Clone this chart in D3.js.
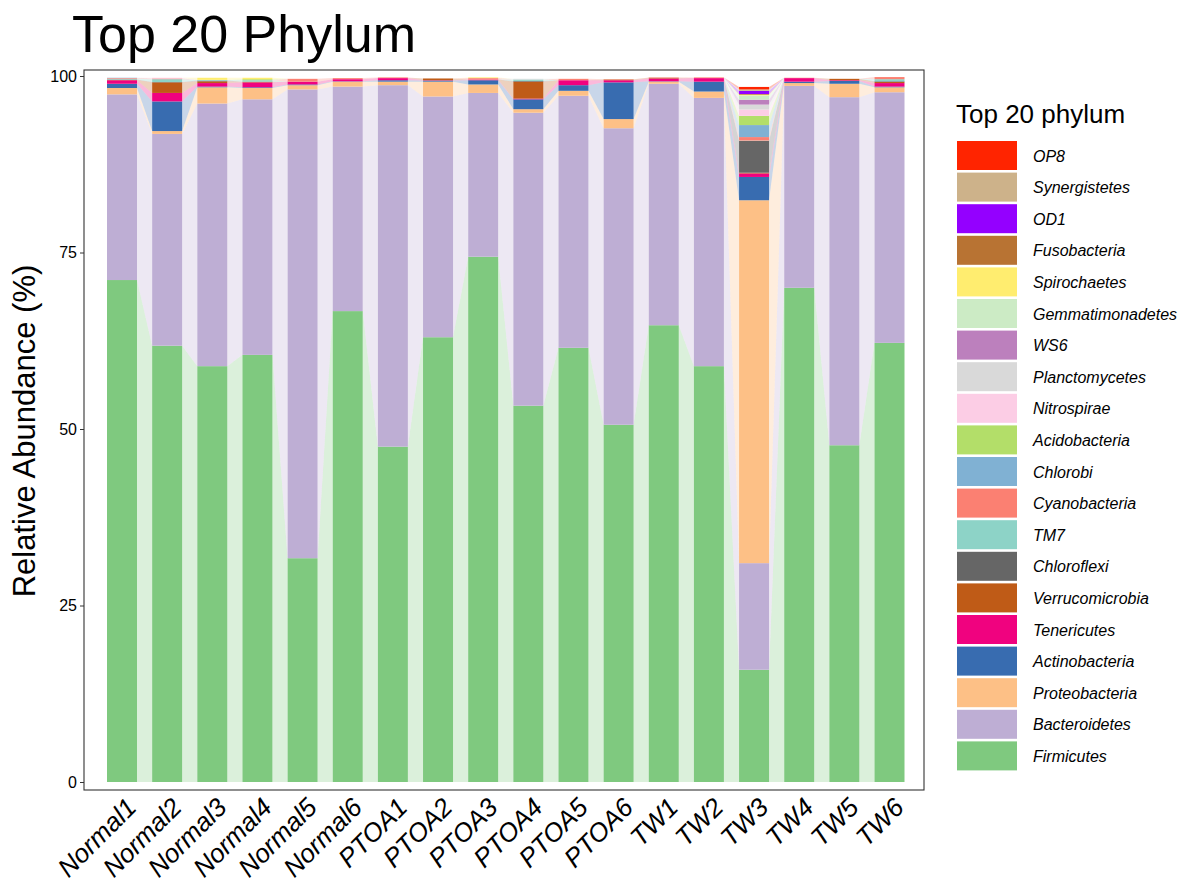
<!DOCTYPE html>
<html>
<head>
<meta charset="utf-8">
<script src="https://cdn.jsdelivr.net/npm/d3@7"></script>
<style>
	body { margin: 0; background: #fff; }
	text { font-family: "Liberation Sans", Arial, sans-serif; }
</style>
</head>
<body>
<svg id="chart"></svg>
<script>
var samples = ["Normal1", "Normal2", "Normal3", "Normal4", "Normal5", "Normal6",
	"PTOA1", "PTOA2", "PTOA3", "PTOA4", "PTOA5", "PTOA6",
	"TW1", "TW2", "TW3", "TW4", "TW5", "TW6"];

// stacking order, bottom first
var phyla = ["Firmicutes", "Bacteroidetes", "Proteobacteria", "Actinobacteria", "Tenericutes",
	"Verrucomicrobia", "Chloroflexi", "TM7", "Cyanobacteria", "Chlorobi", "Acidobacteria",
	"Nitrospirae", "Planctomycetes", "WS6", "Gemmatimonadetes", "Spirochaetes",
	"Fusobacteria", "OD1", "Synergistetes", "OP8"];

var phylumColors = ["#7FC97F", "#BEAED4", "#FDC086", "#386CB0", "#F0027F",
	"#BF5B17", "#666666", "#8DD3C7", "#FB8072", "#80B1D3", "#B3DE69",
	"#FCCDE5", "#D9D9D9", "#BC80BD", "#CCEBC5", "#FFED6F",
	"#B87333", "#9400FF", "#CDB28A", "#FF2400"];

var yTicks = [0, 25, 50, 75, 100];

// relative abundance (%) per sample
var firmicutes      = [71.1, 61.8, 58.9, 60.5, 31.7, 66.7, 47.5, 63.0, 74.4, 53.3, 61.5, 50.6, 64.7, 58.9, 15.9, 70.0, 47.7, 62.2];
var bacteroidetes   = [26.3, 30.0, 37.2, 36.2, 66.4, 31.8, 51.2, 34.1, 23.2, 41.5, 35.7, 42.0, 34.2, 38.0, 15.1, 28.6, 49.3, 35.5];
var proteobacteria  = [0.9, 0.4, 2.3, 1.6, 0.6, 0.7, 0.5, 2.1, 1.2, 0.5, 0.7, 1.3, 0.3, 0.9, 51.4, 0.4, 1.9, 0.7];
var actinobacteria  = [0.6, 4.2, 0.1, 0.1, 0.1, 0.05, 0.2, 0.15, 0.6, 1.4, 0.8, 5.2, 0.05, 1.4, 3.3, 0.2, 0.4, 0.1];
var tenericutes     = [0.5, 1.2, 0.5, 0.7, 0.4, 0.3, 0.3, 0.05, 0.1, 0.1, 0.7, 0.3, 0.4, 0.5, 0.5, 0.5, 0.1, 0.5];
var verrucomicrobia = [0.05, 1.5, 0.25, 0.1, 0, 0, 0, 0.25, 0, 2.4, 0, 0.1, 0.1, 0, 0.1, 0, 0.2, 0.15];
var chloroflexi     = [0.05, 0.05, 0.1, 0, 0, 0, 0, 0, 0, 0.1, 0, 0, 0, 0, 4.5, 0, 0, 0.1];
var tm7             = [0.1, 0.4, 0.1, 0.2, 0, 0, 0, 0, 0, 0.2, 0, 0, 0, 0, 0.05, 0, 0, 0.3];
var cyanobacteria   = [0.1, 0.1, 0, 0, 0.4, 0.15, 0.1, 0, 0.2, 0, 0.2, 0.05, 0.05, 0.1, 0.5, 0.05, 0, 0.3];
var chlorobi        = [0.05, 0, 0, 0, 0, 0, 0, 0, 0, 0, 0, 0, 0, 0, 1.7, 0, 0, 0];
var acidobacteria   = [0, 0, 0, 0.15, 0, 0, 0, 0, 0, 0, 0, 0, 0, 0, 1.3, 0, 0, 0];
var nitrospirae     = [0, 0.1, 0, 0, 0, 0, 0, 0, 0, 0, 0, 0, 0, 0, 0.9, 0, 0, 0];
var planctomycetes  = [0, 0, 0, 0, 0, 0, 0, 0, 0, 0.1, 0, 0, 0, 0, 0.7, 0, 0, 0];
var ws6             = [0, 0, 0, 0, 0, 0, 0, 0, 0, 0, 0, 0, 0, 0, 0.7, 0, 0, 0];
var gemmatimonadetes = [0, 0, 0, 0, 0, 0, 0, 0, 0, 0, 0, 0, 0, 0, 0.6, 0, 0, 0];
var spirochaetes    = [0, 0, 0.3, 0.2, 0, 0, 0, 0, 0.1, 0, 0, 0, 0, 0, 0.1, 0, 0, 0];
var fusobacteria    = [0, 0, 0, 0, 0, 0, 0, 0, 0, 0, 0, 0, 0, 0, 0.1, 0, 0, 0];
var od1             = [0, 0, 0, 0, 0, 0, 0, 0, 0, 0, 0, 0, 0, 0, 0.45, 0, 0, 0];
var synergistetes   = [0, 0, 0, 0, 0, 0, 0, 0, 0, 0, 0, 0, 0, 0, 0.2, 0, 0, 0];
var op8             = [0, 0, 0, 0, 0, 0, 0, 0, 0, 0, 0, 0, 0, 0, 0.35, 0, 0, 0];

var seriesValues = [firmicutes, bacteroidetes, proteobacteria, actinobacteria, tenericutes,
	verrucomicrobia, chloroflexi, tm7, cyanobacteria, chlorobi, acidobacteria,
	nitrospirae, planctomycetes, ws6, gemmatimonadetes, spirochaetes,
	fusobacteria, od1, synergistetes, op8];

var W = 1202, H = 884;
var panel = { left: 84, right: 924, top: 70, bottom: 790 };

var svg = d3.select("#chart").attr("width", W).attr("height", H);

// build the table the stack needs
var table = samples.map(function(s, i) {
	var row = { sample: s };
	phyla.forEach(function(p, j) { row[p] = seriesValues[j][i]; });
	return row;
});
var stacked = d3.stack().keys(phyla)(table);

var x = d3.scaleBand().domain(samples).range([107, 904.5]).paddingInner(0.3355).paddingOuter(0);
var y = d3.scaleLinear().domain([0, 100]).range([782, 76]);
var color = d3.scaleOrdinal().domain(phyla).range(phylumColors);

// panel background
svg.append("rect")
	.attr("x", panel.left).attr("y", panel.top)
	.attr("width", panel.right - panel.left).attr("height", panel.bottom - panel.top)
	.attr("fill", "white");

// flows between neighbouring bars
var bw = x.bandwidth();
var flows = [];
stacked.forEach(function(layer) {
	for (var i = 0; i < samples.length - 1; i++) {
		var a = layer[i], b = layer[i + 1];
		if (a[1] - a[0] <= 0 && b[1] - b[0] <= 0) continue;
		flows.push({ key: layer.key, a: a, b: b, s0: samples[i], s1: samples[i + 1] });
	}
});
var line = d3.line();
svg.append("g").selectAll("path")
	.data(flows)
	.enter().append("path")
	.attr("d", function(d) {
		var x0 = x(d.s0) + bw, x1 = x(d.s1);
		return line([[x0, y(d.a[1])], [x1, y(d.b[1])], [x1, y(d.b[0])], [x0, y(d.a[0])]]) + "Z";
	})
	.style("fill", function(d) { return color(d.key); })
	.style("fill-opacity", 0.28);

// bars
var layers = svg.append("g").selectAll("g")
	.data(stacked)
	.enter().append("g")
	.style("fill", function(d) { return color(d.key); });
layers.selectAll("rect")
	.data(function(d) { return d; })
	.enter().append("rect")
	.attr("x", function(d) { return x(d.data.sample); })
	.attr("width", bw)
	.attr("y", function(d) { return y(d[1]); })
	.attr("height", function(d) { return Math.max(0, y(d[0]) - y(d[1])); });

// panel border
svg.append("rect")
	.attr("x", panel.left).attr("y", panel.top)
	.attr("width", panel.right - panel.left).attr("height", panel.bottom - panel.top)
	.attr("fill", "none").attr("stroke", "#333").attr("stroke-width", 1.1);

// y axis
var yAxis = svg.append("g")
	.attr("transform", "translate(" + panel.left + ",0)")
	.call(d3.axisLeft(y).tickValues(yTicks).tickSize(4).tickPadding(3));
yAxis.select(".domain").remove();
yAxis.selectAll(".tick line").attr("stroke", "#333");
yAxis.selectAll(".tick text")
	.attr("fill", "#000")
	.style("font-size", "16px")
	.style("font-family", "Liberation Sans, Arial, sans-serif");

// x axis labels
var xAxis = svg.append("g")
	.attr("transform", "translate(0," + panel.bottom + ")")
	.call(d3.axisBottom(x).tickSize(0).tickPadding(0));
xAxis.select(".domain").remove();
xAxis.selectAll(".tick text")
	.attr("fill", "#000")
	.attr("text-anchor", "end")
	.attr("dy", 0)
	.attr("transform", "translate(16,19) rotate(-45)")
	.style("font-size", "26px")
	.style("font-style", "italic")
	.style("font-family", "Liberation Sans, Arial, sans-serif");

// titles
svg.append("text")
	.attr("x", 72).attr("y", 52)
	.attr("font-size", "52px")
	.attr("fill", "#000")
	.text("Top 20 Phylum");

svg.append("text")
	.attr("transform", "translate(35,431) rotate(-90)")
	.attr("text-anchor", "middle")
	.attr("font-size", "31px")
	.attr("fill", "#000")
	.text("Relative Abundance (%)");

// legend
var legend = svg.append("g").attr("transform", "translate(956,0)");
legend.append("text")
	.attr("x", 0).attr("y", 123)
	.attr("font-size", "26px")
	.attr("fill", "#000")
	.text("Top 20 phylum");
var legendItems = phyla.slice().reverse();
var entry = legend.selectAll("g.entry")
	.data(legendItems)
	.enter().append("g")
	.attr("class", "entry")
	.attr("transform", function(d, i) { return "translate(0," + (141 + i * 31.6) + ")"; });
entry.append("rect")
	.attr("x", 1).attr("y", 0)
	.attr("width", 60).attr("height", 29)
	.attr("fill", function(d) { return color(d); });
entry.append("text")
	.attr("x", 77).attr("y", 15)
	.attr("dy", "0.35em")
	.attr("font-size", "16px")
	.attr("font-style", "italic")
	.attr("fill", "#000")
	.text(function(d) { return d; });
</script>
</body>
</html>
